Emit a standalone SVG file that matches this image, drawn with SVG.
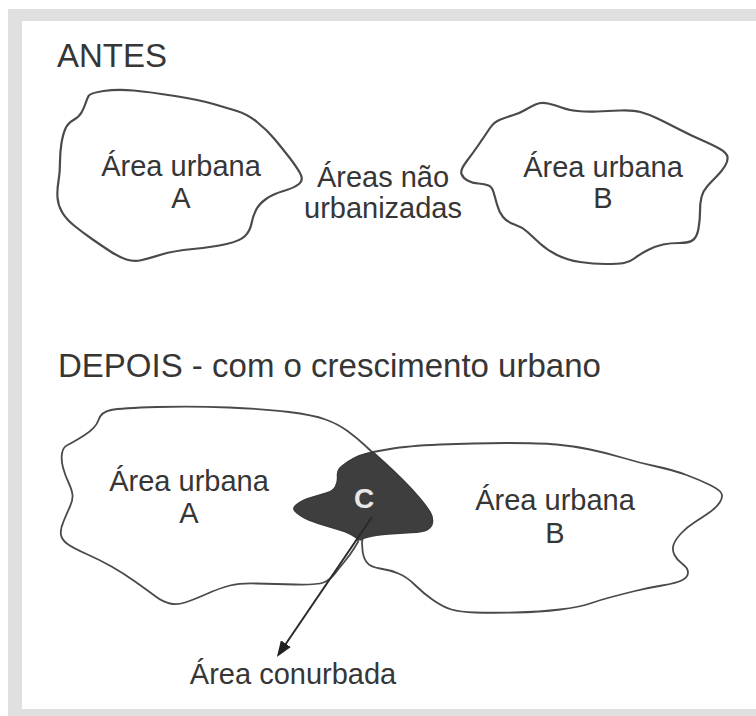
<svg xmlns="http://www.w3.org/2000/svg" width="756" height="716" viewBox="0 0 756 716">
  <defs>
    <style>
      .lbl { font-family: "Liberation Sans", Arial, sans-serif; font-size: 29px; fill: #363636; text-anchor: middle; }
      .title { font-family: "Liberation Sans", Arial, sans-serif; font-size: 33px; fill: #363636; }
      .area { fill: none; stroke: #4a4a4a; stroke-width: 2.2; stroke-linejoin: round; }
      .area2 { fill: none; stroke: #4a4a4a; stroke-width: 1.8; stroke-linejoin: round; }
      .conn { stroke: #2a2a2a; stroke-width: 2; fill: none; }
      .clbl { font-family: "Liberation Sans", Arial, sans-serif; font-size: 28px; font-weight: bold; fill: #e8e8e8; text-anchor: middle; }
    </style>
    <marker id="arrow" markerUnits="userSpaceOnUse" markerWidth="16" markerHeight="12" refX="6" refY="6" orient="auto">
      <path d="M0,0 L16,6 L0,12 Z" fill="#222"/>
    </marker>
  </defs>

  <rect x="0" y="0" width="756" height="716" fill="#ffffff"/>
  <rect x="8" y="9" width="748" height="707" fill="#e0e0e0"/>
  <rect x="22" y="21" width="734" height="688" fill="#ffffff"/>

  <text class="title" x="57" y="67">ANTES</text>
  <text class="title" x="58" y="377">DEPOIS - com o crescimento urbano</text>

  <g id="antes-area-a">
    <path class="area" d="M88.5,96 Q90,93 103.5,91 Q117,89 133.5,90.5 Q150,92 175,96 Q200,100 213.5,104 Q227,108 237,111 Q247,114 257,122 Q267,130 274.5,139 Q282,148 289,157 Q296,166 300,173 Q304,180 299,184 Q294,188 283.5,191 Q273,194 266,199 Q259,204 256,210 Q253,216 251.5,223.5 Q250,231 245,236 Q240,241 226.5,244 Q213,247 193,249 Q173,251 161.5,254.5 Q150,258 142,260 Q134,262 126.5,259.5 Q119,257 110.5,251.5 Q102,246 92,239 Q82,232 74,225.5 Q66,219 62,212 Q58,205 57.5,197.5 Q57,190 58.5,181 Q60,172 60,162 Q60,152 61.5,143 Q63,134 65.5,128.5 Q68,123 73.5,120 Q79,117 81.5,112.5 Q84,108 85.5,103.5 Q87,99 88.5,96 Z"/>
    <text class="lbl" x="181" y="176">Área urbana</text>
    <text class="lbl" x="181" y="208">A</text>
  </g>

  <g id="antes-nao-urbanizadas">
    <text class="lbl" x="383" y="187">Áreas não</text>
    <text class="lbl" x="383" y="218">urbanizadas</text>
  </g>

  <g id="antes-area-b">
    <path class="area" d="M461.5,174 Q460,170 466.5,161.5 Q473,153 479.5,143.5 Q486,134 490,128 Q494,122 500.5,119.5 Q507,117 513.5,115 Q520,113 525,110 Q530,107 535.5,104.5 Q541,102 548,103.5 Q555,105 561.5,107.5 Q568,110 577.5,111 Q587,112 597,111.5 Q607,111 620,110.5 Q633,110 640.5,112 Q648,114 657.5,118.5 Q667,123 678.5,129 Q690,135 701.5,140 Q713,145 720,149 Q727,153 727.5,157 Q728,161 725,166 Q722,171 717,176 Q712,181 707.5,186 Q703,191 701.5,197 Q700,203 700,211.5 Q700,220 698.5,228.5 Q697,237 693,240 Q689,243 679.5,243 Q670,243 663,244.5 Q656,246 648,250 Q640,254 635,258 Q630,262 624,263 Q618,264 605.5,264 Q593,264 580,262 Q567,260 557,255 Q547,250 540,243.5 Q533,237 527.5,232 Q522,227 514.5,224.5 Q507,222 503,217 Q499,212 497,204.5 Q495,197 493.5,192 Q492,187 488.5,185.5 Q485,184 478.5,183.5 Q472,183 467.5,180.5 Q463,178 461.5,174 Z"/>
    <text class="lbl" x="603" y="177">Área urbana</text>
    <text class="lbl" x="603" y="208">B</text>
  </g>

  <g id="depois-area-a">
    <path class="area2" d="M98.5,420 Q101,412 111,410 Q121,408 157,407 Q193,406 229,407.5 Q265,409 289,412 Q313,415 325.5,419.5 Q338,424 347.5,431 Q357,438 364.5,445 L372,452 L365,500 L358,542 L354,548.5 Q350,555 345,561 Q340,567 335,573.5 Q330,580 323.5,582.5 Q317,585 295,584.5 Q273,584 256.5,583.5 Q240,583 230,585.5 Q220,588 206.5,594 Q193,600 185,602.5 Q177,605 170,603.5 Q163,602 155,596 Q147,590 135,581.5 Q123,573 111.5,566.5 Q100,560 86.5,554 Q73,548 67.5,544 Q62,540 61,535 Q60,530 63.5,521.5 Q67,513 70,506.5 Q73,500 72.5,495 Q72,490 68.5,482.5 Q65,475 63,467.5 Q61,460 62,453.5 Q63,447 67.5,445 Q72,443 84,435.5 Q96,428 98.5,420 Z"/>
    <text class="lbl" x="189" y="491">Área urbana</text>
    <text class="lbl" x="189" y="523">A</text>
  </g>

  <g id="depois-area-b">
    <path class="area2" d="M373,452 L390,449 Q407,446 440,444.5 Q473,443 506.5,443 Q540,443 556.5,444.5 Q573,446 590,449.5 Q607,453 623.5,458 Q640,463 656.5,466.5 Q673,470 686.5,475 Q700,480 710,485 Q720,490 721.5,493.5 Q723,497 720,502 Q717,507 710,512 Q703,517 695,522 Q687,527 681,533.5 Q675,540 673.5,545 Q672,550 674.5,555 Q677,560 682.5,564 Q688,568 688,572.5 Q688,577 682.5,580 Q677,583 662,585.5 Q647,588 635,591 Q623,594 611.5,597 Q600,600 590,603.5 Q580,607 560,609.5 Q540,612 515,612.5 Q490,613 475,612.5 Q460,612 451.5,609.5 Q443,607 433,600 Q423,593 415,585 Q407,577 398.5,573.5 Q390,570 380,568.5 Q370,567 366.5,562 Q363,557 362.5,550 L362,543 L368,500 Z"/>
    <text class="lbl" x="555" y="510">Área urbana</text>
    <text class="lbl" x="555" y="543">B</text>
  </g>

  <g id="depois-area-c">
    <path d="M373,452 L383,461 Q393,470 403,480 Q413,490 420,498.5 Q427,507 430,512 Q433,517 432.5,522 Q432,527 427.5,529.5 Q423,532 411.5,532.5 Q400,533 388.5,534 Q377,535 370,536.5 Q363,538 361.5,539.5 Q360,541 355,537 Q350,533 340,530 Q330,527 318.5,523.5 Q307,520 301,516 Q295,512 294,509.5 Q293,507 298,503.5 Q303,500 311.5,497.5 Q320,495 326.5,493 Q333,491 335.5,486.5 Q338,482 337.5,476 Q337,470 342,466 Q347,462 353.5,458.5 Q360,455 366.5,453.5 L373,452 Z" fill="#3e3e3e" stroke="#3a3a3a" stroke-width="1.5" stroke-linejoin="round"/>
    <text class="clbl" x="364" y="508">C</text>
  </g>

  <g id="connectors">
    <line class="conn" x1="372" y1="517" x2="282.5" y2="648.7" marker-end="url(#arrow)"/>
  </g>

  <g id="label-conurbada">
    <text class="lbl" x="293" y="684">Área conurbada</text>
  </g>
</svg>
